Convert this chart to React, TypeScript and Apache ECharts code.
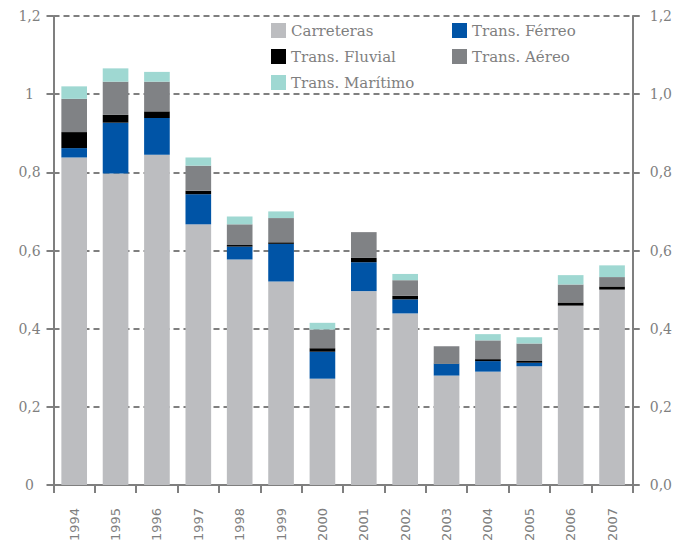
import React, { useEffect, useRef } from "react";
import * as echarts from "echarts";

const years = ["1994","1995","1996","1997","1998","1999","2000","2001","2002","2003","2004","2005","2006","2007"];
const carreteras = [0.838,0.797,0.845,0.667,0.577,0.521,0.272,0.496,0.439,0.280,0.290,0.304,0.459,0.500];
const ferreo =     [0.024,0.130,0.094,0.077,0.033,0.096,0.069,0.074,0.036,0.030,0.027,0.009,0.000,0.000];
const fluvial =    [0.041,0.020,0.017,0.009,0.004,0.004,0.009,0.011,0.009,0.001,0.005,0.004,0.008,0.008];
const aereo =      [0.085,0.085,0.076,0.064,0.053,0.062,0.048,0.066,0.040,0.044,0.048,0.045,0.046,0.024];
const maritimo =   [0.032,0.034,0.025,0.021,0.020,0.017,0.017,0.000,0.016,0.000,0.016,0.016,0.024,0.030];

const seriesNames = ["Carreteras","Trans. Férreo","Trans. Fluvial","Trans. Aéreo","Trans. Marítimo"];
const seriesData = [carreteras, ferreo, fluvial, aereo, maritimo];
const colors = ["#bcbdc0","#0054a6","#000000","#808285","#9fd8d2"];

// legend positions within the chart div (page offset of 8px removed)
const legendPos = [
  { left: 263, top: 15 },
  { left: 444, top: 15 },
  { left: 263, top: 41 },
  { left: 444, top: 41 },
  { left: 263, top: 67 },
];

export default function App() {
  const ref = useRef<HTMLDivElement>(null);
  useEffect(() => {
    if (!ref.current) return;
    const chart = echarts.init(ref.current, null, { renderer: "svg" });
    const gray = "#7f7f7f";
    const serif = "DejaVu Serif";
    chart.setOption({
      animation: false,
      backgroundColor: "#ffffff",
      color: colors,
      legend: seriesNames.map((n, i) => ({
        data: [n],
        left: legendPos[i].left,
        top: legendPos[i].top,
        padding: 0,
        itemWidth: 15,
        itemHeight: 15,
        icon: "rect",
        selectedMode: false,
        textStyle: { fontFamily: serif, fontSize: 15, color: gray },
      })),
      grid: { left: 45.5, right: 32, top: 8, bottom: 60 },
      xAxis: {
        type: "category",
        data: years,
        axisLine: { lineStyle: { color: gray, width: 2 } },
        axisTick: { show: true, interval: 0, length: 8, lineStyle: { color: gray, width: 2 } },
        axisLabel: { rotate: 90, margin: 23, fontFamily: "DejaVu Sans", fontSize: 13, color: gray, interval: 0 },
      },
      yAxis: [
        {
          type: "value",
          min: 0,
          max: 1.2,
          interval: 0.2,
          position: "left",
          axisLine: { show: true, lineStyle: { color: gray, width: 2 } },
          axisTick: { show: true, length: 7, lineStyle: { color: gray, width: 2 } },
          splitLine: { show: true, lineStyle: { color: gray, width: 2, type: [6, 4] } },
          axisLabel: {
            margin: 24,
            align: "center",
            fontFamily: serif,
            fontSize: 14,
            color: gray,
            formatter: (v: number) => {
              const r = Math.round(v * 10) / 10;
              if (r === 0) return "0";
              if (r === 1) return "1";
              return r.toFixed(1).replace(".", ",");
            },
          },
        },
        {
          type: "value",
          min: 0,
          max: 1.2,
          interval: 0.2,
          position: "right",
          axisLine: { show: true, lineStyle: { color: gray, width: 2 } },
          axisTick: { show: true, length: 7, lineStyle: { color: gray, width: 2 } },
          splitLine: { show: false },
          axisLabel: {
            margin: 17,
            fontFamily: serif,
            fontSize: 14,
            color: gray,
            formatter: (v: number) => (Math.round(v * 10) / 10).toFixed(1).replace(".", ","),
          },
        },
      ],
      series: seriesNames.map((n, i) => ({
        name: n,
        type: "bar",
        stack: "total",
        barCategoryGap: "38%",
        data: seriesData[i],
        itemStyle: { color: colors[i] },
      })),
    });
    return () => chart.dispose();
  }, []);
  return <div ref={ref} style={{ width: 667, height: 537 }} />;
}
